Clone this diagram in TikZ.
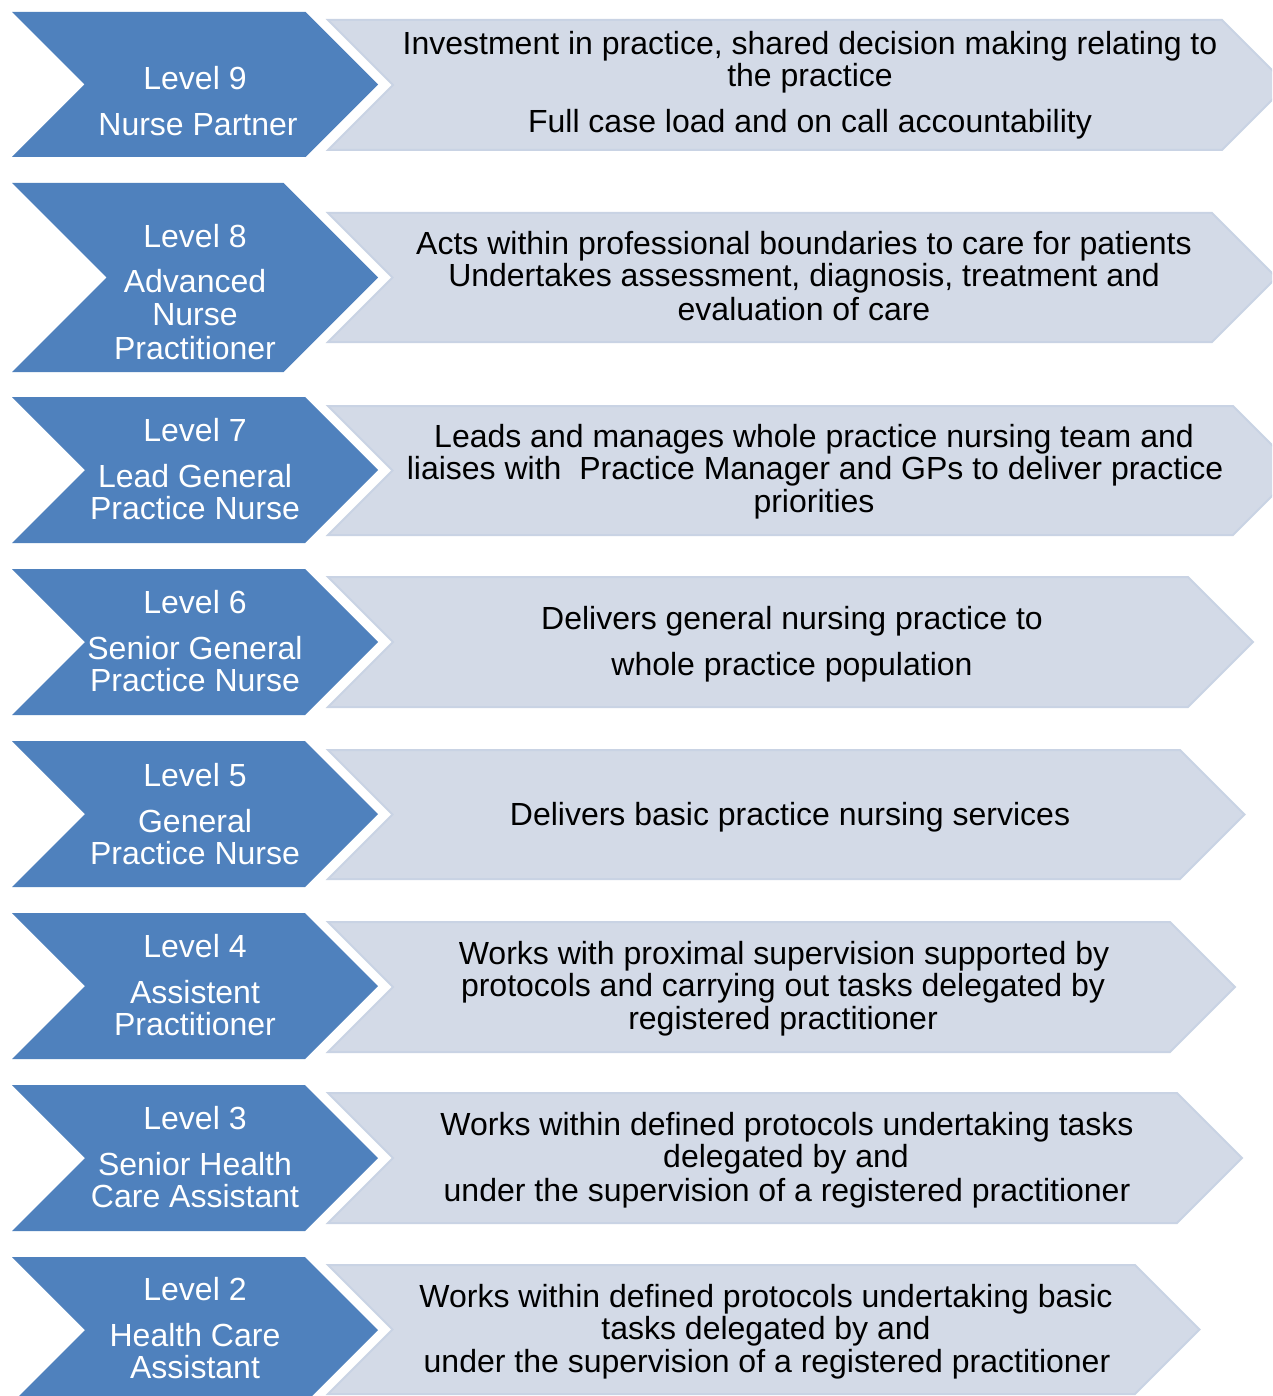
\documentclass[tikz,border=0pt]{standalone}
\usepackage{fontspec}
\setmainfont{Liberation Sans}
\definecolor{chevblue}{RGB}{79,129,189}
\definecolor{chevgrey}{RGB}{211,218,231}
\definecolor{chevgreyedge}{RGB}{201,211,228}
\newcommand\rowfont{\fontsize{32}{33}\selectfont}
\tikzset{
  bluehalo/.style={draw=white, line width=5pt, line join=miter},
  bluechevron/.style={fill=chevblue},
  greychevron/.style={fill=chevgrey, draw=chevgreyedge, line width=2pt, line join=miter},
  bluetxt/.style={anchor=base, inner sep=0pt, text=white, font=\rowfont},
  greytxt/.style={anchor=base, inner sep=0pt, text=black, font=\rowfont},
}
% blue chevron: top, bottom
\newcommand\bluechev[2]{%
  \pgfmathsetmacro\bmid{(#1+#2)/2}\pgfmathsetmacro\bdep{(#2-#1)/2}%
  \path[bluehalo] (12,#1) -- ({378-\bdep},#1) -- (378,\bmid) -- ({378-\bdep},#2) -- (12,#2) -- ({12+\bdep},\bmid) -- cycle;
  \path[bluechevron] (12,#1) -- ({378-\bdep},#1) -- (378,\bmid) -- ({378-\bdep},#2) -- (12,#2) -- ({12+\bdep},\bmid) -- cycle;}
% grey chevron: top, bottom, right top corner
\newcommand\greychev[3]{%
  \pgfmathsetmacro\gmid{(#1+#2)/2}\pgfmathsetmacro\gdep{(#2-#1)/2}%
  \path[greychevron] (328,#1) -- (#3,#1) -- ({#3+\gdep},\gmid) -- (#3,#2) -- (328,#2) -- ({328+\gdep},\gmid) -- cycle;}
\begin{document}
\begin{tikzpicture}[x=1pt,y=-1pt]
\useasboundingbox (0,0) rectangle (1272,1396);
\fill[white] (0,0) rectangle (1272,1396);
\clip (0,0) rectangle (1272,1396);
% grey chevrons
\greychev{20}{150}{1222}
\greychev{213}{342}{1212}
\greychev{406}{535}{1233}
\greychev{577}{707}{1188}
\greychev{750}{879}{1180}
\greychev{922}{1052}{1170}
\greychev{1093}{1223}{1177}
\greychev{1265}{1394}{1135}
% blue chevrons
\bluechev{12}{157}
\bluechev{183}{372}
\bluechev{397}{543}
\bluechev{569}{715}
\bluechev{741}{887}
\bluechev{913}{1059}
\bluechev{1085}{1231}
\bluechev{1257}{1403}
% level 9
\node[bluetxt] (b9a) at (195,90) {Level 9};
\node[bluetxt] (b9b) at (198,136) {Nurse Partner};
\node[greytxt] (g9a) at (810,55) {Investment in practice, shared decision making relating to};
\node[greytxt] (g9b) at (810,87) {the practice};
\node[greytxt] (g9c) at (810,133) {Full case load and on call accountability};
% level 8
\node[bluetxt] (b8a) at (195,248) {Level 8};
\node[bluetxt] (b8b) at (195,293) {Advanced};
\node[bluetxt] (b8c) at (195,326) {Nurse};
\node[bluetxt] (b8d) at (195,359) {Practitioner};
\node[greytxt] (g8a) at (804,255) {Acts within professional boundaries to care for patients};
\node[greytxt] (g8b) at (804,287) {Undertakes assessment, diagnosis, treatment and};
\node[greytxt] (g8c) at (804,320) {evaluation of care};
% level 7
\node[bluetxt] (b7a) at (195,441) {Level 7};
\node[bluetxt] (b7b) at (195,487) {Lead General};
\node[bluetxt] (b7c) at (195,519) {Practice Nurse};
\node[greytxt] (g7a) at (814,447) {Leads and manages whole practice nursing team and};
\node[greytxt] (g7b) at (815,479) {liaises with\ \ Practice Manager and GPs to deliver practice};
\node[greytxt] (g7c) at (814,512) {priorities};
% level 6
\node[bluetxt] (b6a) at (195,613) {Level 6};
\node[bluetxt] (b6b) at (195,659) {Senior General};
\node[bluetxt] (b6c) at (195,691) {Practice Nurse};
\node[greytxt] (g6a) at (792,629) {Delivers general nursing practice to};
\node[greytxt] (g6b) at (792,675) {whole practice population};
% level 5
\node[bluetxt] (b5a) at (195,786) {Level 5};
\node[bluetxt] (b5b) at (195,832) {General};
\node[bluetxt] (b5c) at (195,864) {Practice Nurse};
\node[greytxt] (g5a) at (790,825) {Delivers basic practice nursing services};
% level 4
\node[bluetxt] (b4a) at (195,957) {Level 4};
\node[bluetxt] (b4b) at (195,1003) {Assistent};
\node[bluetxt] (b4c) at (195,1035) {Practitioner};
\node[greytxt] (g4a) at (784,964) {Works with proximal supervision supported by};
\node[greytxt] (g4b) at (783,996) {protocols and carrying out tasks delegated by};
\node[greytxt] (g4c) at (783,1029) {registered practitioner};
% level 3
\node[bluetxt] (b3a) at (195,1129) {Level 3};
\node[bluetxt] (b3b) at (195,1175) {Senior Health};
\node[bluetxt] (b3c) at (195,1207) {Care Assistant};
\node[greytxt] (g3a) at (787,1135) {Works within defined protocols undertaking tasks};
\node[greytxt] (g3b) at (786,1167) {delegated by and};
\node[greytxt] (g3c) at (787,1201) {under the supervision of a registered practitioner};
% level 2
\node[bluetxt] (b2a) at (195,1300) {Level 2};
\node[bluetxt] (b2b) at (195,1346) {Health Care};
\node[bluetxt] (b2c) at (195,1378) {Assistant};
\node[greytxt] (g2a) at (766,1307) {Works within defined protocols undertaking basic};
\node[greytxt] (g2b) at (766,1339) {tasks delegated by and};
\node[greytxt] (g2c) at (767,1372) {under the supervision of a registered practitioner};
\end{tikzpicture}
\end{document}
